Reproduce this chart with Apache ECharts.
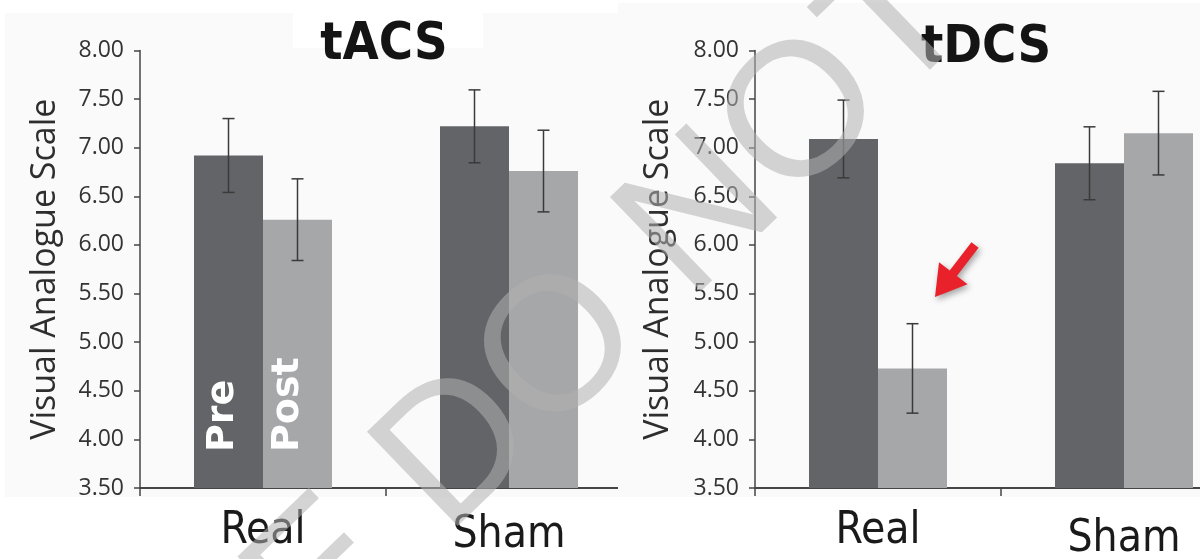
<!DOCTYPE html>
<html>
<head>
<meta charset="utf-8">
<script src="https://cdn.jsdelivr.net/npm/echarts@6/dist/echarts.min.js"></script>
<style>
  html, body { margin: 0; padding: 0; background: #ffffff; }
  #chart { width: 1200px; height: 559px; }
</style>
</head>
<body>
<div id="chart"></div>
<script>
// Group means (VAS) and their standard errors, Pre / Post, per stimulation type
const categories = ['Real', 'Sham'];
const phaseNames = ['Pre', 'Post'];
const panelTitles = ['tACS', 'tDCS'];
const yName = 'Visual Analogue Scale';

const tacsPre = [6.92, 7.22];
const tacsPreSem = [0.38, 0.375];
const tacsPost = [6.26, 6.76];
const tacsPostSem = [0.42, 0.42];

const tdcsPre = [7.09, 6.84];
const tdcsPreSem = [0.40, 0.375];
const tdcsPost = [4.73, 7.15];
const tdcsPostSem = [0.46, 0.43];

const yMin = 3.5, yMax = 8, yStep = 0.5;

const PRE_COLOR = '#636467';
const POST_COLOR = '#a6a7a9';
const AXIS_COLOR = '#454545';
const PANEL_BG = '#fafafa';
const BAR_W = 69;

const chart = echarts.init(document.getElementById('chart'));

function xAxisFor(gridIndex, z, shamDrop) {
  return {
    type: 'category', gridIndex, z,
    data: categories.map((c, i) => i === 0 ? { value: c } : { value: c, textStyle: { padding: [shamDrop, 0, 0, 0] } }),
    axisLine: { show: true, lineStyle: { color: AXIS_COLOR, width: 2 } },
    axisTick: { show: true, length: 8, lineStyle: { color: AXIS_COLOR, width: 1.5 } },
    axisLabel: { fontFamily: 'DejaVu Sans Condensed', fontSize: 44, color: '#1a1a1a', margin: 22 }
  };
}

function yAxisFor(gridIndex, z, gap) {
  return {
    type: 'value', gridIndex, z,
    min: yMin, max: yMax, interval: yStep,
    name: yName, nameLocation: 'middle', nameGap: gap,
    nameTextStyle: { fontFamily: 'Open Sans', fontSize: 34, color: '#2e2e2e' },
    axisLine: { show: true, lineStyle: { color: AXIS_COLOR, width: 1.5 } },
    axisTick: { show: true, length: 6, lineStyle: { color: AXIS_COLOR, width: 1.5 } },
    axisLabel: { formatter: v => v.toFixed(2), fontFamily: 'Open Sans', fontSize: 23, color: '#333333', margin: 16 },
    splitLine: { show: false }
  };
}

// labelShift: sideways nudge of the in-bar phase word (screen px, negative = left)
function barSeries(name, values, color, axisIndex, labelText, labelShift) {
  return {
    type: 'bar', name, xAxisIndex: axisIndex, yAxisIndex: axisIndex,
    barWidth: BAR_W, barGap: '0%', z: 4,
    itemStyle: { color },
    data: values.map((v, i) => {
      if (labelText && i === 0) {
        return {
          value: v,
          label: {
            // offset is expressed in the rotated frame: [along text, across text]
            show: true, formatter: labelText, position: ['50%', '100%'], offset: [36, labelShift],
            rotate: 90, align: 'left', verticalAlign: 'middle',
            color: '#ffffff', fontFamily: 'DejaVu Sans', fontWeight: 'bold', fontSize: 38
          }
        };
      }
      return v;
    })
  };
}

// Whiskers: mean ± SEM, centred on the Pre (left) or Post (right) bar of each category
function errorSeries(values, sems, axisIndex, side) {
  return {
    type: 'custom', xAxisIndex: axisIndex, yAxisIndex: axisIndex, z: 5, silent: true,
    encode: { x: 0, y: 1 },
    data: values.map((v, i) => [i, v, sems[i]]),
    renderItem: function (params, api) {
      const idx = api.value(0), v = api.value(1), e = api.value(2);
      const hi = api.coord([idx, v + e]);
      const lo = api.coord([idx, v - e]);
      const x = hi[0] + side * BAR_W / 2;
      const cap = 6;
      const st = { stroke: '#3a3a3a', lineWidth: 1.5 };
      return {
        type: 'group',
        children: [
          { type: 'line', shape: { x1: x, y1: hi[1], x2: x, y2: lo[1] }, style: st },
          { type: 'line', shape: { x1: x - cap, y1: hi[1], x2: x + cap, y2: hi[1] }, style: st },
          { type: 'line', shape: { x1: x - cap, y1: lo[1], x2: x + cap, y2: lo[1] }, style: st }
        ]
      };
    }
  };
}

// Diagonal watermark lettering
const wmAngle = 44 * Math.PI / 180;
const wmX = 410, wmY = 499;
const wmSpace = 53;
const wmStyle = { fontSize: 190, fontFamily: 'Liberation Sans', fill: 'rgba(176,176,176,0.55)', verticalAlign: 'middle' };

// Red pointer arrow next to the tDCS Real/Post bar
const tip = [935, 297], tail = [975, 245];
const ux = (tip[0] - tail[0]), uy = (tip[1] - tail[1]);
const ul = Math.hypot(ux, uy);
const u = [ux / ul, uy / ul], p = [u[1], -u[0]];
const base = [tip[0] - 30 * u[0], tip[1] - 30 * u[1]];
const pt = (o, k) => [o[0] + k * p[0], o[1] + k * p[1]];
const arrowPts = [pt(tail, -4.5), pt(tail, 4.5), pt(base, 4.5), pt(base, 18), tip, pt(base, -18), pt(base, -4.5)];

const option = {
  animation: false,
  backgroundColor: '#ffffff',
  title: [
    { text: panelTitles[0], left: 384, top: 19, textAlign: 'center', padding: 0, z: 6,
      textStyle: { fontFamily: 'DejaVu Sans Condensed', fontWeight: 'bold', fontSize: 52, color: '#141414' } },
    { text: panelTitles[1], left: 986, top: 22, textAlign: 'center', padding: 0, z: 6,
      textStyle: { fontFamily: 'DejaVu Sans Condensed', fontWeight: 'bold', fontSize: 52, color: '#141414' } }
  ],
  grid: [
    { left: 140, top: 50.5, width: 492, height: 437.5, containLabel: false, outerBoundsMode: 'none' },
    { left: 755, top: 50.5, width: 492, height: 437.5, containLabel: false, outerBoundsMode: 'none' }
  ],
  xAxis: [xAxisFor(0, 1, 4), xAxisFor(1, 3, 8)],
  yAxis: [yAxisFor(0, 1, 78), yAxisFor(1, 3, 80)],
  series: [
    barSeries(panelTitles[0] + ' ' + phaseNames[0], tacsPre, PRE_COLOR, 0, phaseNames[0], -5),
    barSeries(panelTitles[0] + ' ' + phaseNames[1], tacsPost, POST_COLOR, 0, phaseNames[1], -9),
    barSeries(panelTitles[1] + ' ' + phaseNames[0], tdcsPre, PRE_COLOR, 1),
    barSeries(panelTitles[1] + ' ' + phaseNames[1], tdcsPost, POST_COLOR, 1),
    errorSeries(tacsPre, tacsPreSem, 0, -1),
    errorSeries(tacsPost, tacsPostSem, 0, 1),
    errorSeries(tdcsPre, tdcsPreSem, 1, -1),
    errorSeries(tdcsPost, tdcsPostSem, 1, 1)
  ],
  graphic: [
    { type: 'rect', z: 0, silent: true, shape: { x: 5, y: 13, width: 613, height: 484 }, style: { fill: PANEL_BG } },
    { type: 'rect', z: 0.5, silent: true, shape: { x: 293, y: 12, width: 190, height: 36 }, style: { fill: '#ffffff' } },
    { type: 'rect', z: 2, silent: true, shape: { x: 618, y: 3, width: 582, height: 494 }, style: { fill: PANEL_BG } },
    { type: 'text', z: 7, silent: true, x: wmX, y: wmY, rotation: wmAngle,
      style: Object.assign({ text: 'DO NOT COPY', align: 'left' }, wmStyle) },
    { type: 'text', z: 7, silent: true,
      x: wmX - wmSpace * Math.cos(wmAngle), y: wmY + wmSpace * Math.sin(wmAngle), rotation: wmAngle,
      style: Object.assign({ text: 'PLEASE', align: 'right' }, wmStyle) },
    { type: 'polygon', z: 8, silent: true, shape: { points: arrowPts },
      style: { fill: '#e8212b', shadowBlur: 6, shadowColor: 'rgba(0,0,0,0.35)', shadowOffsetX: 2, shadowOffsetY: 3 } }
  ]
};

chart.setOption(option);
</script>
</body>
</html>
